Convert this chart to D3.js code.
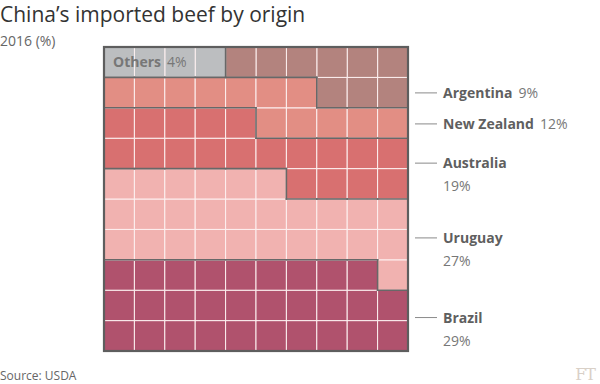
<!DOCTYPE html>
<html>
<head>
<meta charset="utf-8">
<script src="https://cdn.jsdelivr.net/npm/d3@7"></script>
<style>
	body { margin: 0; background: #fff; }
	svg { display: block; font-family: 'Open Sans', sans-serif; }
</style>
</head>
<body>
<div id="chart"></div>
<script>
// data, bottom of the waffle first
var countries = ['Brazil', 'Uruguay', 'Australia', 'New Zealand', 'Argentina', 'Others'];
var shares = [29, 27, 19, 12, 9, 4];
var colours = ['#b0526d', '#f1b2b0', '#d87070', '#e28e84', '#b3837e', '#bcbec0'];

var width = 600,
	height = 384,
	gridX = 104,
	gridY = 47,
	gridSize = 304,
	n = 10;

// where each side label sits, in grid rows
var labelRows = { 'Brazil': 8.9, 'Uruguay': 6.28, 'Australia': 3.82, 'New Zealand': 2.53, 'Argentina': 1.51 };

var svg = d3.select('#chart').append('svg')
	.attr('width', width)
	.attr('height', height);

var x = d3.scaleLinear().domain([0, n]).range([gridX, gridX + gridSize]);
var y = d3.scaleLinear().domain([0, n]).range([gridY, gridY + gridSize]);

// fill from the bottom row left to right, the top row right to left
var cells = [], k = 0;
countries.forEach(function(c, i) {
	for (var j = 0; j < shares[i]; j++, k++) {
		var row = n - 1 - Math.floor(k / n),
			col = row === 0 ? n - 1 - (k % n) : k % n;
		cells.push({ row: row, col: col, cat: i });
	}
});

var lookup = {};
cells.forEach(function(d) { lookup[d.row + '-' + d.col] = d.cat; });

svg.append('g').selectAll('rect')
	.data(cells)
	.enter()
	.append('rect')
	.attr('x', function(d) { return x(d.col); })
	.attr('y', function(d) { return y(d.row); })
	.attr('width', x(1) - x(0))
	.attr('height', y(1) - y(0))
	.attr('fill', function(d) { return colours[d.cat]; })
	.attr('stroke', '#fdf0f0')
	.attr('stroke-width', 1);

// dark edges between groups
var edges = [];
cells.forEach(function(d) {
	var right = lookup[d.row + '-' + (d.col + 1)],
		below = lookup[(d.row + 1) + '-' + d.col];
	if (right !== undefined && right !== d.cat) edges.push([d.col + 1, d.row, d.col + 1, d.row + 1]);
	if (below !== undefined && below !== d.cat) edges.push([d.col, d.row + 1, d.col + 1, d.row + 1]);
});

svg.append('g').selectAll('line')
	.data(edges)
	.enter()
	.append('line')
	.attr('x1', function(d) { return x(d[0]); })
	.attr('y1', function(d) { return y(d[1]); })
	.attr('x2', function(d) { return x(d[2]); })
	.attr('y2', function(d) { return y(d[3]); })
	.attr('stroke', '#686868')
	.attr('stroke-width', 1.6)
	.attr('stroke-linecap', 'square');

svg.append('rect')
	.attr('x', x(0))
	.attr('y', y(0))
	.attr('width', gridSize)
	.attr('height', gridSize)
	.attr('fill', 'none')
	.attr('stroke', '#5e5e5e')
	.attr('stroke-width', 2.2);

// side labels
countries.forEach(function(c, i) {
	if (!labelRows[c]) return;
	var ly = y(labelRows[c]),
		twoLines = shares[i] > 12,
		g = svg.append('g');

	g.append('line')
		.attr('x1', x(n) + 7)
		.attr('x2', x(n) + 29)
		.attr('y1', ly)
		.attr('y2', ly)
		.attr('stroke', '#8a8a8a')
		.attr('stroke-width', 1);

	var t = g.append('text')
		.attr('x', x(n) + 35)
		.attr('y', ly + 5)
		.attr('font-size', 14)
		.attr('fill', '#5f5f5f');
	t.append('tspan').attr('font-weight', 'bold').text(c);
	if (twoLines) {
		g.append('text')
			.attr('x', x(n) + 35)
			.attr('y', ly + 28)
			.attr('font-size', 14)
			.attr('fill', '#777')
			.text(shares[i] + '%');
	} else {
		t.append('tspan').attr('dx', 6).attr('fill', '#777').text(shares[i] + '%');
	}
});

// label inside the grid for the smallest group
var others = svg.append('text')
	.attr('x', x(0) + 9)
	.attr('y', y(0.5) + 5)
	.attr('font-size', 14)
	.attr('fill', '#777');
others.append('tspan').attr('font-weight', 'bold').text(countries[5]);
others.append('tspan').attr('dx', 6).text(shares[5] + '%');

svg.append('text')
	.attr('x', 0)
	.attr('y', 22)
	.attr('font-size', 21)
	.attr('fill', '#333')
	.text('China’s imported beef by origin');

svg.append('text')
	.attr('x', 0)
	.attr('y', 46)
	.attr('font-size', 14)
	.attr('fill', '#666')
	.text('2016 (%)');

svg.append('text')
	.attr('x', 0)
	.attr('y', 380)
	.attr('font-size', 12)
	.attr('fill', '#666')
	.text('Source: USDA');

svg.append('text')
	.attr('x', 595)
	.attr('y', 380)
	.attr('text-anchor', 'end')
	.attr('font-family', 'DejaVu Serif, serif')
	.attr('font-size', 16)
	.attr('fill', '#d9d0c7')
	.attr('letter-spacing', -1)
	.text('FT');
</script>
</body>
</html>
